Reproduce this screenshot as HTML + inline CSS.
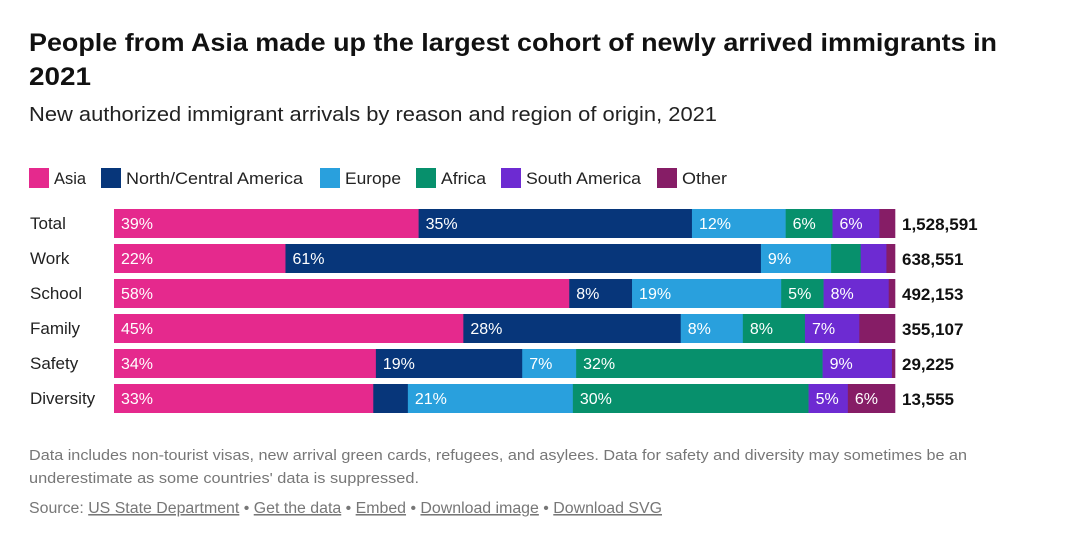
<!DOCTYPE html>
<html><head><meta charset="utf-8"><style>
html,body{margin:0;padding:0;background:#fff;}
svg{display:block;font-family:"Liberation Sans",sans-serif;}
</style></head><body>
<svg id="chart" width="1080" height="539" viewBox="0 0 1080 539">
<text x="29" y="51" font-size="25" font-weight="bold" fill="#111" textLength="968" lengthAdjust="spacingAndGlyphs">People from Asia made up the largest cohort of newly arrived immigrants in</text>
<text x="29" y="85" font-size="25" font-weight="bold" fill="#111" textLength="62" lengthAdjust="spacingAndGlyphs">2021</text>
<text x="29" y="121" font-size="20" fill="#222" textLength="688" lengthAdjust="spacingAndGlyphs">New authorized immigrant arrivals by reason and region of origin, 2021</text>
<g id="legend"></g>
<g id="rows"></g>
<text x="29" y="460" font-size="15" fill="#777" textLength="938" lengthAdjust="spacingAndGlyphs">Data includes non-tourist visas, new arrival green cards, refugees, and asylees. Data for safety and diversity may sometimes be an</text>
<text x="29" y="483" font-size="15" fill="#777" textLength="390" lengthAdjust="spacingAndGlyphs">underestimate as some countries' data is suppressed.</text>
<text x="29" y="513" font-size="15.5" fill="#777" textLength="633" lengthAdjust="spacingAndGlyphs">Source: <tspan text-decoration="underline">US State Department</tspan> • <tspan text-decoration="underline">Get the data</tspan> • <tspan text-decoration="underline">Embed</tspan> • <tspan text-decoration="underline">Download image</tspan> • <tspan text-decoration="underline">Download SVG</tspan></text>
</svg>
<script>
const categories = ["Total","Work","School","Family","Safety","Diversity"];
const totals = ["1,528,591","638,551","492,153","355,107","29,225","13,555"];
const regions = ["Asia","North/Central America","Europe","Africa","South America","Other"];
const asia = [39,22,58,45,34,33];
const ncAmerica = [35,61,8,28,19,4.4];
const europe = [12,9,19,8,7,21];
const africa = [6,3.8,5.4,8,32,30];
const southAmerica = [6,3.3,8.3,7,9,5];
const other = [2,1.1,0.8,4.6,0.4,6];
const series = [asia,ncAmerica,europe,africa,southAmerica,other];
const colors = ["#e5298d","#07367a","#29a0dd","#07906c","#6d2bd2","#861d66"];
const NS="http://www.w3.org/2000/svg";
const x0=114, x1=895;
const rowY = i => 209 + i*35;
const BH=29;
function mk(t,a){const e=document.createElementNS(NS,t);for(const k in a)e.setAttribute(k,a[k]);return e;}
const lg=document.getElementById('legend');
const legX=[29,101,320,416,501,657];
const legTW=[32,177,56,45,115,45];
regions.forEach((r,i)=>{
  const lx=legX[i];
  const s=mk('rect',{x:lx,y:168,width:20,height:20,fill:colors[i]});
  
  
  lg.appendChild(s);
  const t=mk('text',{x:lx+25,y:184,'font-size':17,fill:'#222',textLength:legTW[i],lengthAdjust:'spacingAndGlyphs'});
  t.textContent=r;
  
  
  lg.appendChild(t);
});
const rows=document.getElementById('rows');
categories.forEach((c,i)=>{
  const y=rowY(i);
  const lab=mk('text',{x:30,y:y+20,'font-size':17,fill:'#222'});
  lab.textContent=c;
  
  
  rows.appendChild(lab);
  let sum=0; series.forEach(s=>sum+=s[i]);
  let cx=x0;
  series.forEach((s,j)=>{
    const w=s[i]/sum*(x1-x0);
    const r=mk('rect',{x:cx,y:y,width:w+0.3,height:BH,fill:colors[j]});
    
    
    rows.appendChild(r);
    if(s[i]>=5){
      const t=mk('text',{x:cx+7,y:y+20,'font-size':16,fill:'#fff'});
      t.textContent=Math.round(s[i])+'%';
      
      
      rows.appendChild(t);
    }
    cx+=w;
  });
  const tt=mk('text',{x:902,y:y+21,'font-size':17,'font-weight':'bold',fill:'#111'});
  tt.textContent=totals[i];
  
  
  rows.appendChild(tt);
});
</script>
</body></html>
